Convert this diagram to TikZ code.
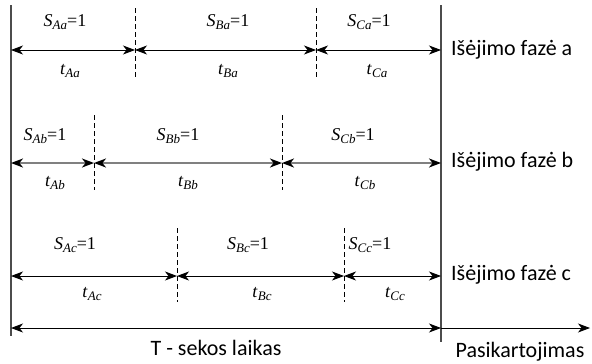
\documentclass[tikz,border=0pt]{standalone}
\usepackage{fontspec}
\setmainfont{Liberation Serif}
\newfontfamily\phasefont{Carlito}
\usetikzlibrary{arrows.meta}
\usetikzlibrary{positioning}
\newcommand{\sval}[1]{\textit{S}\raisebox{-0.45ex}{\fontsize{13}{13}\selectfont\itshape #1}=1}
\newcommand{\tval}[1]{\textit{t}\raisebox{-0.45ex}{\fontsize{13}{13}\selectfont\itshape #1}}

\begin{document}
\begin{tikzpicture}[
  x=1pt, y=-1pt,
  > = {Stealth[length=12pt,width=9pt,inset=3.5pt,color=black]},
  span/.style = {<->, line width=0.9pt},
  graysep/.style = {<->, line width=1.6pt, draw=black!50},
  sep/.style = {dashed, dash pattern=on 5pt off 3pt, line width=0.7pt},
  rail/.style = {line width=1.3pt, draw=black!70},
  sym/.style = {font=\fontsize{18}{18}\selectfont, inner sep=0pt},
  phase/.style = {font=\phasefont\fontsize{22}{22}\selectfont, anchor=west, inner sep=0pt}
  ]
  \useasboundingbox (0,0) rectangle (592,364);

	% period borders
	\coordinate (top0) at (11,5);
	\coordinate (bot0) at (11,336);
	\coordinate (top1) at (441,5);
	\coordinate (bot1) at (441,342);
	\draw[rail] (top0) -- (bot0);
	\draw[rail] (top1) -- (bot1);

	% phase a
	\coordinate (a0) at (11,50);
	\coordinate (a1) at (135,50);
	\coordinate (a2) at (316,50);
	\coordinate (a3) at (441,50);
	\draw[sep] (135,8) -- (135,78);
	\draw[sep] (316,8) -- (316,78);
	\draw[span] (a0) -- (a1);
	\draw[span] (a1) -- (a2);
	\draw[span] (a2) -- (a3);
	\node[sym] (sAa) at (65,22) {\sval{Aa}};
	\node[sym] (sBa) at (228,22) {\sval{Ba}};
	\node[sym] (sCa) at (369,22) {\sval{Ca}};
	\node[sym] (tAa) at (70,71) {\tval{Aa}};
	\node[sym] (tBa) at (228,71) {\tval{Ba}};
	\node[sym] (tCa) at (377,71) {\tval{Ca}};
	\node[phase] (fa) at (451,50) {Išėjimo fazė a};

	% phase b
	\coordinate (b0) at (11,163);
	\coordinate (b1) at (94,163);
	\coordinate (b2) at (282,163);
	\coordinate (b3) at (441,163);
	\draw[sep] (94,115) -- (94,190);
	\draw[sep] (282,115) -- (282,190);
	\draw[graysep] (b0) -- (b1);
	\draw[graysep] (b1) -- (b2);
	\draw[graysep] (b2) -- (b3);
	\node[sym] (sAb) at (45,136) {\sval{Ab}};
	\node[sym] (sBb) at (178,136) {\sval{Bb}};
	\node[sym] (sCb) at (353,136) {\sval{Cb}};
	\node[sym] (tAb) at (55,183) {\tval{Ab}};
	\node[sym] (tBb) at (188,183) {\tval{Bb}};
	\node[sym] (tCb) at (365,183) {\tval{Cb}};
	\node[phase] (fb) at (451,162) {Išėjimo fazė b};

	% phase c
	\coordinate (c0) at (11,276);
	\coordinate (c1) at (177,276);
	\coordinate (c2) at (344,276);
	\coordinate (c3) at (441,276);
	\draw[sep] (177,228) -- (177,302);
	\draw[sep] (344,228) -- (344,302);
	\draw[span] (c0) -- (c1);
	\draw[span] (c1) -- (c2);
	\draw[span] (c2) -- (c3);
	\node[sym] (sAc) at (75,245) {\sval{Ac}};
	\node[sym] (sBc) at (248,245) {\sval{Bc}};
	\node[sym] (sCc) at (370,245) {\sval{Cc}};
	\node[sym] (tAc) at (92,294) {\tval{Ac}};
	\node[sym] (tBc) at (262,294) {\tval{Bc}};
	\node[sym] (tCc) at (395,294) {\tval{Cc}};
	\node[phase] (fc) at (451,275) {Išėjimo fazė c};

	% sequence time and repetition
	\coordinate (T0) at (11,328);
	\coordinate (T1) at (441,328);
	\coordinate (T2) at (590,328);
	\draw[span] (T0) -- (T1);
	\draw[->, line width=0.9pt] (T1) -- (T2);
	\node[phase, anchor=center] (seq) at (216,348) {T - sekos laikas};
	\node[phase, anchor=center] (rep) at (520,352) {Pasikartojimas};

\end{tikzpicture}
\end{document}
